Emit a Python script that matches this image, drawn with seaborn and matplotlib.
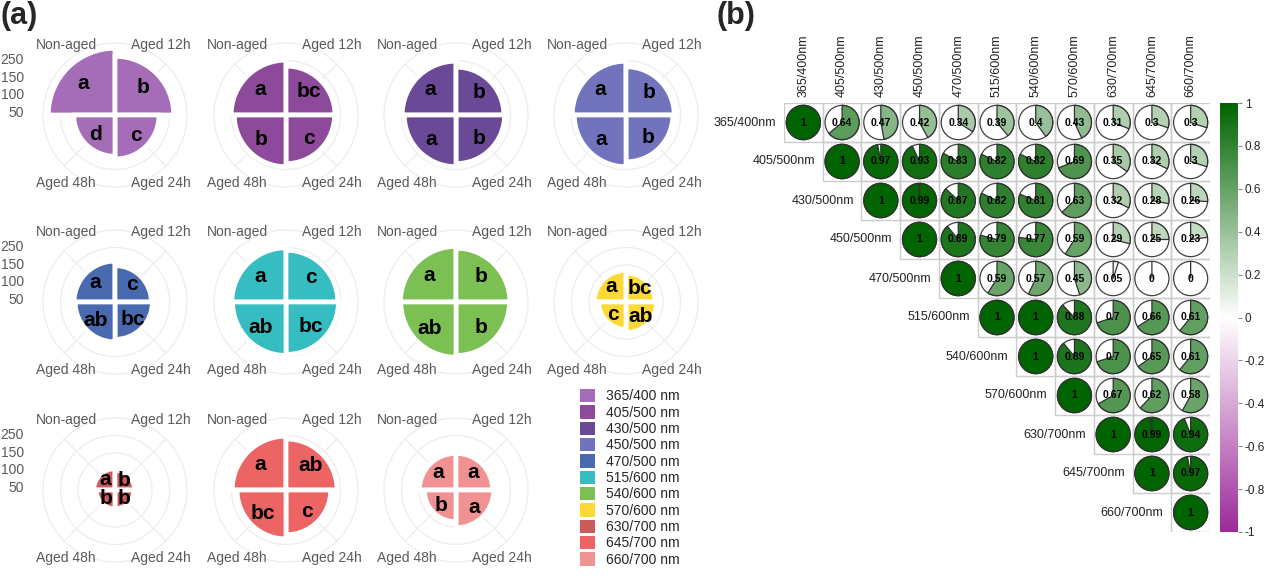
import numpy as np
import pandas as pd
import matplotlib
matplotlib.use("Agg")
import matplotlib.pyplot as plt
import seaborn as sns
from matplotlib.colors import LinearSegmentedColormap, ListedColormap, Normalize
from matplotlib.cm import ScalarMappable
from matplotlib.patches import Patch, Circle, Wedge, Rectangle

# ---- panel (a) data: fluorescence intensity per wavelength pair ----
treatments = ["Non-aged", "Aged 12h", "Aged 24h", "Aged 48h"]
wavelengths = ["365/400", "405/500", "430/500", "450/500", "470/500", "515/600",
               "540/600", "570/600", "630/700", "645/700", "660/700"]
colors = ["#a56db8", "#8d4a9b", "#6a4a97", "#7174bc", "#4a6aaf", "#35bdc1",
          "#7cbf52", "#fcd935", "#cc5b5b", "#ec6464", "#f09292"]

v365 = [235, 212, 170, 162]
v405 = [201, 184, 183, 192]
v430 = [198, 181, 183, 192]
v450 = [198, 182, 178, 192]
v470 = [161, 148, 151, 158]
v515 = [199, 192, 194, 197]
v540 = [203, 198, 197, 202]
v570 = [135, 127, 132, 122]
v630 = [105, 100, 98, 98]
v645 = [198, 190, 172, 184]
v660 = [149, 149, 152, 135]
values = [v365, v405, v430, v450, v470, v515, v540, v570, v630, v645, v660]

l365 = ["a", "b", "c", "d"]
l405 = ["a", "bc", "c", "b"]
l430 = ["a", "b", "b", "a"]
l450 = ["a", "b", "b", "a"]
l470 = ["a", "c", "bc", "ab"]
l515 = ["a", "c", "bc", "ab"]
l540 = ["a", "b", "b", "ab"]
l570 = ["a", "bc", "ab", "c"]
l630 = ["a", "b", "b", "b"]
l645 = ["a", "ab", "c", "bc"]
l660 = ["a", "a", "a", "b"]
letters = [l365, l405, l430, l450, l470, l515, l540, l570, l630, l645, l660]

r_ticks = [50, 100, 150, 200]
r_ticklabels = ["50", "100", "150", "250"]

# ---- panel (b) data: correlation (upper triangle, row by row) ----
corr_labels = [w + "nm" for w in wavelengths]
corr_rows = [
    [1, 0.64, 0.47, 0.42, 0.34, 0.39, 0.4, 0.43, 0.31, 0.3, 0.3],
    [1, 0.97, 0.93, 0.83, 0.82, 0.82, 0.69, 0.35, 0.32, 0.3],
    [1, 0.99, 0.87, 0.82, 0.81, 0.63, 0.32, 0.28, 0.26],
    [1, 0.89, 0.79, 0.77, 0.59, 0.29, 0.25, 0.23],
    [1, 0.59, 0.57, 0.45, 0.05, 0, 0],
    [1, 1, 0.88, 0.7, 0.66, 0.61],
    [1, 0.89, 0.7, 0.65, 0.61],
    [1, 0.67, 0.62, 0.58],
    [1, 0.99, 0.94],
    [1, 0.97],
    [1],
]
cbar_ticks = [-1, -0.8, -0.6, -0.4, -0.2, 0, 0.2, 0.4, 0.6, 0.8, 1]

sns.set_theme(style="white")
plt.rcParams["font.family"] = ["Liberation Sans", "DejaVu Sans"]
plt.rcParams["axes.unicode_minus"] = False

W, H = 1269, 581
fig = plt.figure(figsize=(W / 100, H / 100), dpi=100)
fig.patch.set_facecolor("white")

RMIN, RMAX = 44, 250
angles = np.deg2rad([315, 45, 135, 225])
label_pos = [(0.16, 0.985), (0.82, 0.985), (0.82, 0.03), (0.16, 0.03)]
col_x = [115, 286, 456, 626]
row_y = [115, 302, 490]
R = 72

for k, wl in enumerate(wavelengths):
    cx, cy = col_x[k % 4], row_y[k // 4]
    ax = fig.add_axes([(cx - R) / W, 1 - (cy + R) / H, 2 * R / W, 2 * R / H],
                      projection="polar")
    ax.set_theta_zero_location("N")
    ax.set_theta_direction(-1)
    ax.set_axisbelow(True)
    vals = np.array(values[k], dtype=float)
    ax.bar(angles, vals - RMIN, width=np.pi / 2, bottom=RMIN, color=colors[k],
           edgecolor="white", linewidth=3.4, zorder=2)
    for ang, v, lt in zip(angles, vals, letters[k]):
        ax.text(ang, RMIN + 0.67 * (v - RMIN), lt, ha="center", va="center",
                fontsize=15, fontweight="bold", color="black", zorder=3)
    ax.set_ylim(RMIN, RMAX)
    ax.set_yticks(r_ticks)
    ax.set_yticklabels([])
    ax.set_xticks(angles)
    ax.set_xticklabels([])
    ax.tick_params(length=0, pad=0)
    ax.grid(True, color="#ededed", linewidth=0.9)
    ax.spines["polar"].set_color("#ededed")
    ax.spines["polar"].set_linewidth(0.9)
    for (tx, ty), t in zip(label_pos, treatments):
        ax.text(tx, ty, t, transform=ax.transAxes, ha="center", va="center",
                fontsize=10, color="#595959")
    if k % 4 == 0:
        for r, lab in zip(r_ticks, r_ticklabels):
            ax.annotate(lab, xy=(0, r), xycoords="data", xytext=(-91, 0),
                        textcoords="offset pixels", ha="right", va="center",
                        fontsize=10, color="#595959", annotation_clip=False)

handles = [Patch(facecolor=c, edgecolor="none") for c in colors]
fig.legend(handles, [w + " nm" for w in wavelengths], loc="upper left",
           bbox_to_anchor=(580 / W, 1 - 389 / H), frameon=False, fontsize=10,
           handlelength=1.1, handleheight=1.1, labelspacing=0.14,
           handletextpad=0.75, borderpad=0, borderaxespad=0)

# ---- panel (b) ----
n = len(corr_labels)
corr = np.zeros((n, n))
for i, row in enumerate(corr_rows):
    corr[i, i:] = row
corr = corr + np.triu(corr, 1).T
df = pd.DataFrame(corr, index=corr_labels, columns=corr_labels)
mask = np.tril(np.ones_like(corr, dtype=bool), k=-1)

cmap = LinearSegmentedColormap.from_list("pg", ["#9c2a99", "#ffffff", "#006400"])
norm = Normalize(-1, 1)

axb = fig.add_axes([784 / W, 1 - 532 / H, 426 / W, 429 / H])
sns.heatmap(df, mask=mask, cmap=ListedColormap(["white"]), cbar=False,
            linewidths=0, annot=True, fmt="g",
            annot_kws=dict(fontsize=7.5, fontweight="bold", color="black"),
            xticklabels=False, yticklabels=False, ax=axb)
# y axis is inverted, so the pie runs from 12 o'clock clockwise with these angles
for i in range(n):
    for j in range(i, n):
        r = corr[i, j]
        axb.add_patch(Rectangle((j, i), 1, 1, facecolor="none",
                                edgecolor="#cccccc", linewidth=1, zorder=1.5))
        axb.add_patch(Circle((j + 0.5, i + 0.5), 0.44, facecolor="white",
                             edgecolor="#404040", linewidth=0.9, zorder=2))
        axb.add_patch(Wedge((j + 0.5, i + 0.5), 0.44, -90, -90 + 360 * abs(r),
                            facecolor=cmap(norm(r)), edgecolor="#303030",
                            linewidth=0.9, zorder=2.1))
for i, lab in enumerate(corr_labels):
    axb.text(i - 0.2, i + 0.5, lab, ha="right", va="center", fontsize=9,
             color="#222222")
    axb.text(i + 0.5, -0.15, lab, ha="center", va="bottom", rotation=90,
             fontsize=9, color="#222222")
axb.set_xlim(0, n)
axb.set_ylim(n, 0)
axb.axis("off")

cax = fig.add_axes([1220 / W, 1 - 532 / H, 18 / W, 429 / H])
cb = fig.colorbar(ScalarMappable(norm=norm, cmap=cmap), cax=cax, ticks=cbar_ticks)
cb.set_ticklabels([f"{t:g}" for t in cbar_ticks])
cb.outline.set_visible(False)
cax.tick_params(labelsize=8.5, length=3, width=0.8, pad=2, color="#888888",
                labelcolor="#222222")

fig.text(1 / W, 1 - 1 / H, "(a)", fontsize=22, fontweight="bold", va="top", ha="left")
fig.text(717 / W, 1 - 1 / H, "(b)", fontsize=22, fontweight="bold", va="top", ha="left")

fig.savefig("out.png", dpi=100, facecolor="white")
